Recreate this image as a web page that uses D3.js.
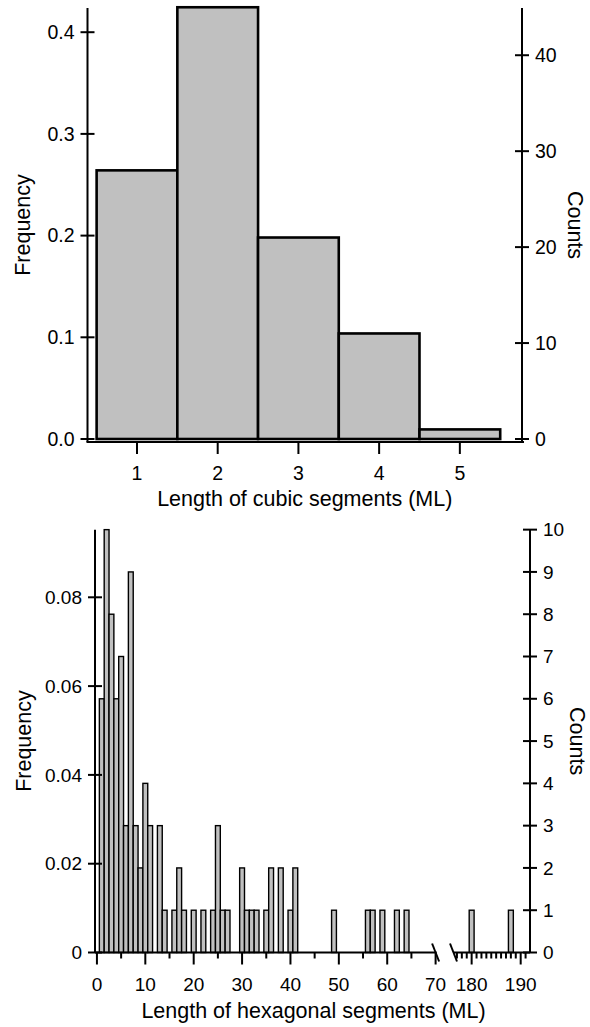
<!DOCTYPE html>
<html>
<head>
<meta charset="utf-8">
<script src="https://cdn.jsdelivr.net/npm/d3@7"></script>
<style>
  body { margin: 0; background: #fff; }
  svg { display: block; }
  text { font-family: "Liberation Sans", Arial, Helvetica, sans-serif; fill: #000; }
</style>
</head>
<body>
<svg id="chart" width="590" height="1027"></svg>
<script>
// ---- Cubic segments: bin centre (ML) and number of segments ----
const cubicLengths = [1, 2, 3, 4, 5, 6];
const cubicCounts  = [28, 45, 21, 11, 1, 0];
const cubicFreqTicks  = [0, 0.1, 0.2, 0.3, 0.4];
const cubicCountTicks = [0, 10, 20, 30, 40];
const cubicXTicks     = [1, 2, 3, 4, 5];

// ---- Hexagonal segments: non-empty bins (ML) and counts ----
const hexLengths = [1, 2, 3, 4, 5, 6, 7, 8, 9, 10, 11, 13, 14, 16, 17, 18, 20, 22, 24, 25,
                    26, 27, 30, 31, 32, 33, 35, 36, 38, 40, 41, 49, 56, 57, 59, 62, 64, 180, 188];
const hexCounts  = [6, 10, 8, 6, 7, 3, 9, 3, 2, 4, 3, 3, 1, 1, 2, 1, 1, 1, 1, 3,
                    1, 1, 2, 1, 1, 1, 1, 2, 2, 1, 2, 1, 1, 1, 1, 1, 1, 1, 1];
// all hexagonal segments, including those inside the axis break (70-176 ML)
const hexSegmentsTotal = 105;
const hexFreqTicks  = [0, 0.02, 0.04, 0.06, 0.08];
const hexCountTicks = [0, 1, 2, 3, 4, 5, 6, 7, 8, 9, 10];
const hexXTicksLow  = [0, 10, 20, 30, 40, 50, 60, 70];
const hexXMinorLow  = [5, 15, 25, 35, 45, 55, 65];
const hexXTicksHigh = [180, 190];
const hexXMinorHigh = [177, 178, 179, 181, 182, 183, 184, 185, 186, 187, 188, 189, 191];

const svg = d3.select("#chart");

function line(g, x1, y1, x2, y2, w) {
  g.append("line").attr("x1", x1).attr("y1", y1).attr("x2", x2).attr("y2", y2)
    .attr("stroke", "#000").attr("stroke-width", w);
}

// Vertical axis with ticks crossing the spine
function vAxis(g, scale, ticks, fmt, x, y0, y1, side, fontSize) {
  const a = g.append("g");
  line(a, x, y0, x, y1, 2);
  ticks.forEach(t => {
    const y = scale(t);
    line(a, x - 7, y, x + 7, y, 2);
    a.append("text")
      .attr("x", side === "left" ? x - 13 : x + 13)
      .attr("y", y)
      .attr("dy", "0.35em")
      .attr("text-anchor", side === "left" ? "end" : "start")
      .style("font-size", fontSize + "px")
      .text(fmt(t));
  });
}

function bars(g, xScale, yScale, lengths, counts, strokeW, clipId) {
  g.append("g").attr("clip-path", clipId ? `url(#${clipId})` : null)
    .selectAll("rect").data(lengths.map((L, i) => ({ L, c: counts[i] })))
    .join("rect")
    .attr("x", d => xScale(d.L - 0.5))
    .attr("width", d => xScale(d.L + 0.5) - xScale(d.L - 0.5))
    .attr("y", d => yScale(d.c))
    .attr("height", d => yScale(0) - yScale(d.c))
    .attr("fill", "#c0c0c0")
    .attr("stroke", "#000")
    .attr("stroke-width", strokeW);
}

// ================= Cubic histogram =================
{
  const g = svg.append("g");
  const left = 87.5, right = 522, top = 8, base = 439, xAxisY = 442;
  const total = d3.sum(cubicCounts);
  const x = d3.scaleLinear().domain([0.387, 5.77]).range([left, right]);
  const yFreq = d3.scaleLinear().domain([0, 0.4]).range([base, 32.2]);
  const yCount = d3.scaleLinear().domain([0, 0.4 * total]).range([base, 32.2]);

  svg.append("defs").append("clipPath").attr("id", "clipCubic")
    .append("rect").attr("x", left).attr("y", 0).attr("width", right - left).attr("height", base + 2);
  bars(g, x, yCount, cubicLengths, cubicCounts, 2.6, "clipCubic");

  vAxis(g, yFreq, cubicFreqTicks, d3.format(".1f"), left, top, xAxisY, "left", 19.5);
  vAxis(g, yCount, cubicCountTicks, d3.format("d"), right, top, xAxisY, "right", 19.5);

  // bottom axis
  line(g, left - 1, xAxisY, right + 2, xAxisY, 2);
  cubicXTicks.forEach(t => {
    line(g, x(t), xAxisY, x(t), xAxisY + 12, 2);
    g.append("text").attr("x", x(t)).attr("y", xAxisY + 38).attr("text-anchor", "middle")
      .style("font-size", "19.5px").text(t);
  });
  const midY = (top + xAxisY) / 2;
  g.append("text").attr("x", (left + right) / 2).attr("y", xAxisY + 64).attr("text-anchor", "middle")
    .style("font-size", "21.5px").text("Length of cubic segments (ML)");
  g.append("text").attr("transform", `translate(29.5,${midY}) rotate(-90)`).attr("text-anchor", "middle")
    .style("font-size", "21.5px").text("Frequency");
  g.append("text").attr("transform", `translate(568,${midY}) rotate(90)`).attr("text-anchor", "middle")
    .style("font-size", "21.5px").text("Counts");
}

// ================= Hexagonal histogram (broken x axis) =================
{
  const g = svg.append("g");
  const left = 95, right = 530, base = 952.5;
  const xLow = d3.scaleLinear().domain([-0.4, 70]).range([left, 435.6]);
  const xHigh = d3.scaleLinear().domain([176.3, 191.9]).range([453.5, right]);
  const yFreq = d3.scaleLinear().domain([0, 0.08]).range([base, 597.3]);
  const yCount = d3.scaleLinear().domain([0, 0.08 * hexSegmentsTotal]).range([base, 597.3]);

  const lowIdx = hexLengths.map((L, i) => i).filter(i => hexLengths[i] <= 70);
  const highIdx = hexLengths.map((L, i) => i).filter(i => hexLengths[i] > 70);
  bars(g, xLow, yCount, lowIdx.map(i => hexLengths[i]), lowIdx.map(i => hexCounts[i]), 1.4);
  bars(g, xHigh, yCount, highIdx.map(i => hexLengths[i]), highIdx.map(i => hexCounts[i]), 1.4);

  const axisTop = yCount(d3.max(hexCountTicks));
  vAxis(g, yFreq, hexFreqTicks, d => d === 0 ? "0" : d3.format(".2f")(d), left, axisTop, base, "left", 19);
  vAxis(g, yCount, hexCountTicks, d3.format("d"), right, axisTop, base, "right", 19);

  // broken bottom axis
  line(g, left, base, xLow(70) + 1, base, 2);
  line(g, xHigh(176.3), base, right, base, 2);
  hexXMinorLow.forEach(t => line(g, xLow(t), base, xLow(t), base + 6, 2));
  hexXMinorHigh.forEach(t => line(g, xHigh(t), base, xHigh(t), base + 6, 2));
  hexXTicksLow.forEach(t => {
    line(g, xLow(t), base, xLow(t), base + 12, 2);
    g.append("text").attr("x", xLow(t)).attr("y", base + 38).attr("text-anchor", "middle")
      .style("font-size", "19px").text(t);
  });
  hexXTicksHigh.forEach(t => {
    line(g, xHigh(t), base, xHigh(t), base + 12, 2);
    g.append("text").attr("x", xHigh(t)).attr("y", base + 38).attr("text-anchor", "middle")
      .style("font-size", "19px").text(t);
  });
  // break marks
  [xLow(70), xHigh(176.3)].forEach(cx => line(g, cx - 3.5, base - 9, cx + 3.5, base + 9, 2));

  const midY = (axisTop + base) / 2;
  g.append("text").attr("x", 313.5).attr("y", base + 65.5).attr("text-anchor", "middle")
    .style("font-size", "21.5px").text("Length of hexagonal segments (ML)");
  g.append("text").attr("transform", `translate(31,${midY}) rotate(-90)`).attr("text-anchor", "middle")
    .style("font-size", "21.5px").text("Frequency");
  g.append("text").attr("transform", `translate(570,${midY}) rotate(90)`).attr("text-anchor", "middle")
    .style("font-size", "21.5px").text("Counts");
}
</script>
</body>
</html>
